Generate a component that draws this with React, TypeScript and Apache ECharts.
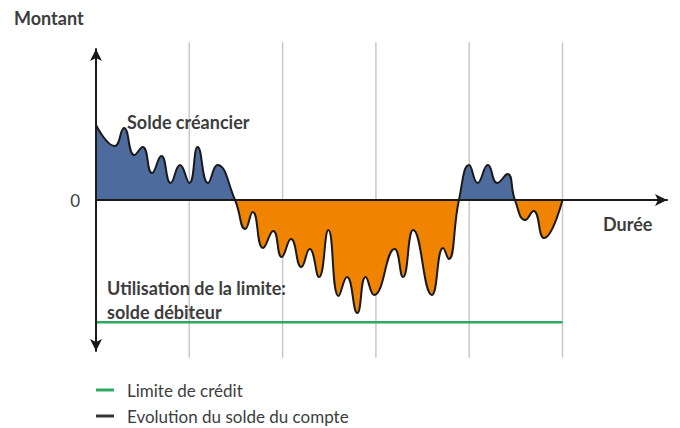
import React, { useEffect, useRef } from "react";
import * as echarts from "echarts";

// Duration positions (one unit = one vertical guide line spacing)
const durations = [
  0, 0.2, 0.3, 0.41, 0.5, 0.6, 0.7, 0.8, 0.9, 1.0, 1.09, 1.2, 1.3, 1.49,
  1.6, 1.68, 1.79, 1.9, 1.99, 2.09, 2.2, 2.29, 2.39, 2.49, 2.6, 2.69, 2.8,
  2.89, 2.98, 3.2, 3.29, 3.4, 3.6, 3.72, 3.78, 3.89,
  4.0, 4.09, 4.2, 4.3, 4.41, 4.49, 4.6, 4.69, 4.8, 5.0,
];
// Account balance (montant) at each position
const balances = [
  49.7, 35.8, 47.7, 29.8, 35.1, 17.9, 29.1, 11.3, 23.2, 11.3, 35.1, 11.3, 23.2, 0,
  -19.2, -7.9, -31.8, -20.5, -37.7, -25.8, -44.4, -32.5, -51.0, -19.9, -63.6, -51.0, -74.8,
  -51.0, -62.9, -32.5, -51.0, -19.9, -62.9, -31.8, -39.1, 0,
  23.2, 11.3, 23.2, 11.3, 17.2, 0, -13.2, -7.3, -25.2, 0,
];
const creditLimit = -81;
const creditLimitRange = [0, 5];
const guideLines = [1, 2, 3, 4, 5];
const yTickLabels = ["0"];
const legendNames = ["Limite de crédit", "Evolution du solde du compte"];
const legendColors = ["#2ea860", "#333333"];

const TEXT = "#3d3d3d";
const FONT = "Lato, 'Open Sans', sans-serif";
const BLUE = "#4e6b9e";
const ORANGE = "#f08300";
const GREEN = "#2ea860";
const LINE = "#1a1a1a";

export default function App() {
  const ref = useRef<HTMLDivElement>(null);
  useEffect(() => {
    document.body.style.margin = "0";
    if (!ref.current) return;
    const chart = echarts.init(ref.current, null, { renderer: "svg" });
    const balanceData = durations.map((d, i) => [d, balances[i]]);
    const guideSeries = guideLines.map((g) => ({
      type: "line",
      name: "guide" + g,
      data: [
        [g, -104.5],
        [g, 104.5],
      ],
      clip: false,
      silent: true,
      showSymbol: false,
      symbol: "none",
      z: 1,
      lineStyle: { color: "#c9c9c9", width: 1.5 },
    }));
    const legends = legendNames.map((name, i) => ({
      left: 96,
      top: 380 + i * 26,
      padding: 0,
      icon: "rect",
      itemWidth: 18,
      itemHeight: 3,
      selectedMode: false,
      textStyle: {
        color: TEXT,
        fontSize: 17,
        fontFamily: FONT,
        lineHeight: 20,
        padding: [0, 0, 0, 8],
      },
      data: [{ name, itemStyle: { color: legendColors[i] } }],
    }));
    const label = (text: string, x: number, y: number) => ({
      type: "text",
      x,
      y,
      z: 10,
      style: { text, fill: TEXT, font: `bold 18px ${FONT}`, verticalAlign: "middle" },
    });
    chart.setOption({
      animation: false,
      textStyle: { fontFamily: FONT },
      grid: { left: 96, right: 13, top: 49, bottom: 77 },
      xAxis: {
        type: "value",
        min: 0,
        max: 6.12,
        z: 6,
        axisLine: {
          onZero: true,
          lineStyle: { color: LINE, width: 2 },
          symbol: ["none", "arrow"],
          symbolSize: [9, 12],
        },
        axisTick: { show: false },
        axisLabel: { show: false },
        splitLine: { show: false },
      },
      yAxis: {
        type: "value",
        min: -100,
        max: 100,
        interval: 100,
        z: 6,
        axisLine: {
          show: true,
          onZero: false,
          lineStyle: { color: LINE, width: 2 },
          symbol: ["arrow", "arrow"],
          symbolSize: [9, 12],
        },
        axisTick: { show: false },
        splitLine: { show: false },
        axisLabel: {
          margin: 16,
          color: TEXT,
          fontSize: 17,
          fontFamily: FONT,
          formatter: (v: number) => (yTickLabels.includes(String(v)) ? String(v) : ""),
        },
      },
      visualMap: {
        type: "piecewise",
        show: false,
        seriesIndex: 0,
        dimension: 1,
        pieces: [
          { gt: 0, lte: 200, color: BLUE },
          { gt: -200, lte: 0, color: ORANGE },
        ],
      },
      legend: legends,
      series: [
        {
          type: "line",
          name: legendNames[1],
          data: balanceData,
          smooth: 0.5,
          showSymbol: false,
          symbol: "none",
          z: 3,
          lineStyle: { color: LINE, width: 2 },
          areaStyle: { opacity: 1, origin: 0 },
        },
        {
          type: "line",
          name: legendNames[0],
          data: creditLimitRange.map((x) => [x, creditLimit]),
          showSymbol: false,
          symbol: "none",
          z: 4,
          color: GREEN,
          lineStyle: { color: GREEN, width: 2.5 },
        },
        ...guideSeries,
      ],
      graphic: [
        label("Montant", 14, 18),
        label("Solde créancier", 127, 122),
        label("Durée", 603, 224),
        label("Utilisation de la limite:", 107, 288),
        label("solde débiteur", 107, 312),
      ],
    });
    return () => chart.dispose();
  }, []);
  return <div ref={ref} style={{ width: 680, height: 428 }} />;
}
